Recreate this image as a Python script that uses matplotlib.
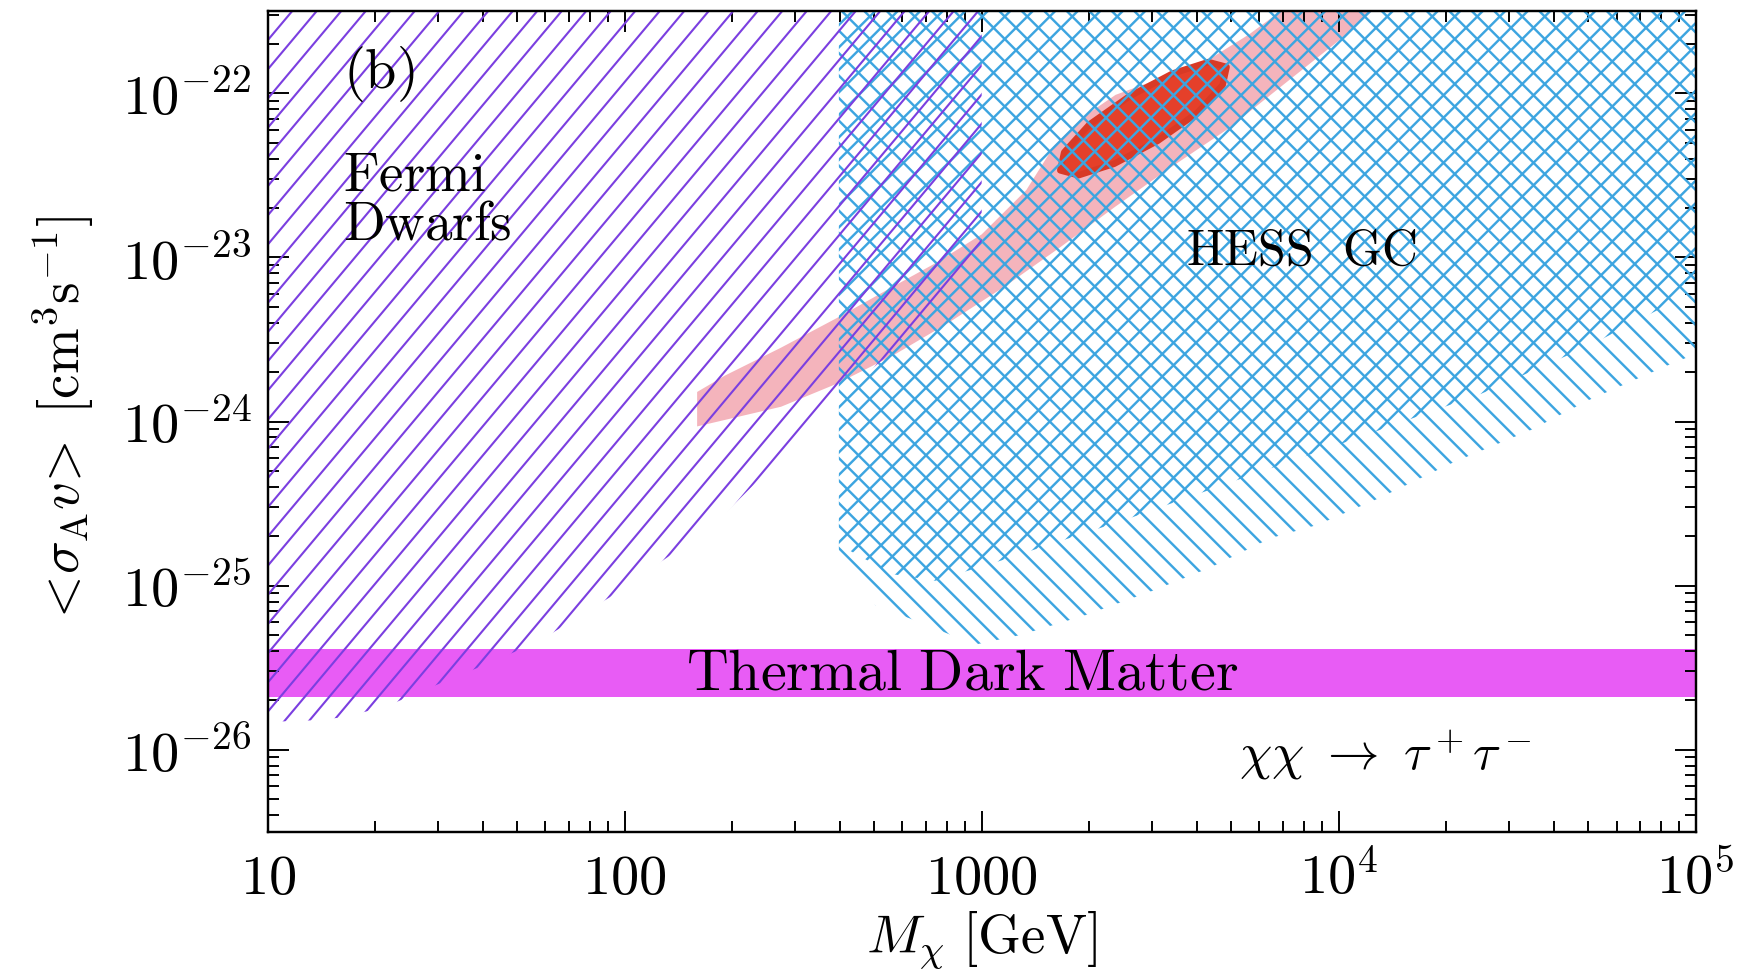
import numpy as np
import matplotlib.pyplot as plt
from matplotlib.collections import LineCollection
from matplotlib.ticker import LogLocator, NullFormatter

plt.rcParams['mathtext.fontset'] = 'cm'
plt.rcParams['font.family'] = 'serif'

# Fermi dwarfs limit, log10 M [GeV] / log10 <sigma v> [cm^3/s]
fermi_logm = np.array([1.0, 1.134, 1.219, 1.338, 1.478, 1.600, 1.759, 1.959, 2.244, 2.438, 2.603, 2.725, 3.0])
fermi_logsv = np.array([-25.83, -25.82, -25.80, -25.73, -25.60, -25.49, -25.34, -25.07, -24.64, -24.22, -23.84, -23.62, -23.06])

# HESS GC limits (the "\" family reaches lower than the "/" family)
hess_a_logm = np.array([2.6, 2.703, 2.847, 2.98, 3.11, 3.29, 3.48, 3.64, 3.81, 3.94, 4.11, 4.32, 4.54, 4.70, 4.94, 5.0])
hess_a_logsv = np.array([-24.80, -25.12, -25.24, -25.36, -25.30, -25.18, -25.03, -24.89, -24.71, -24.63, -24.47, -24.25, -24.05, -23.87, -23.64, -23.59])
hess_b_logm = np.array([2.6, 2.75, 2.87, 3.05, 3.4, 3.75, 4.04, 4.4, 4.7, 5.0])
hess_b_logsv = np.array([-24.75, -24.93, -24.97, -24.85, -24.6, -24.33, -24.11, -23.83, -23.54, -23.2])

# GC excess fit regions (outer = pink, inner = red)
outer_logm = np.array([2.203, 2.438, 2.594, 2.75, 2.906, 3.063, 3.219, 3.375, 3.531, 3.688, 3.844, 4.0, 4.125,
                       3.875, 3.75, 3.625, 3.5, 3.375, 3.281, 3.203, 3.125, 3.0, 2.875, 2.75, 2.594, 2.438, 2.281, 2.203])
outer_logsv = np.array([-24.03, -23.91, -23.77, -23.60, -23.40, -23.18, -22.94, -22.69, -22.45, -22.22, -21.95, -21.68, -21.44,
                        -21.44, -21.64, -21.81, -21.91, -22.01, -22.15, -22.32, -22.59, -22.86, -23.03, -23.18, -23.37, -23.55, -23.72, -23.82])
inner_logm = np.array([3.686, 3.675, 3.604, 3.493, 3.371, 3.271, 3.220, 3.231, 3.302, 3.413, 3.535, 3.635])
inner_logsv = np.array([-21.84, -21.95, -22.12, -22.29, -22.43, -22.50, -22.47, -22.36, -22.19, -22.02, -21.88, -21.81])

# thermal relic band
thermal_lo, thermal_hi = 2.1e-26, 4.1e-26

xticks = [10, 100, 1000, 1e4, 1e5]
xlabels = [r'$10$', r'$100$', r'$1000$', r'$10^4$', r'$10^5$']
yticks = [1e-26, 1e-25, 1e-24, 1e-23, 1e-22]
ylabels = [r'$10^{-26}$', r'$10^{-25}$', r'$10^{-24}$', r'$10^{-23}$', r'$10^{-22}$']

dpi = 116
fig = plt.figure(figsize=(1748 / dpi, 978 / dpi), dpi=dpi)
ax = fig.add_axes([0.1531, 0.1494, 0.8170, 0.8392])
ax.set_xscale('log')
ax.set_yscale('log')
ax.set_xlim(10, 1e5)
ax.set_ylim(10 ** -26.5, 10 ** -21.5)
ytop = ax.get_ylim()[1]


def hatch(region, angle, spacing, color, lw, z):
    # parallel lines in pixel space, clipped to the filled region
    bb = ax.get_window_extent()
    w, h = bb.width, bb.height
    run = h / np.tan(np.radians(angle))
    starts = np.arange(min(0, -run), max(w, w - run), spacing)
    segs = [[(x0 / w, 0), ((x0 + run) / w, 1)] for x0 in starts]
    lc = LineCollection(segs, colors=color, linewidths=lw, transform=ax.transAxes, zorder=z)
    lc.set_clip_path(region.get_paths()[0], ax.transData)
    ax.add_collection(lc, autolim=False)


ax.fill(10 ** outer_logm, 10 ** outer_logsv, color='#f4b4bc', lw=0, zorder=1)
ax.fill(10 ** inner_logm, 10 ** inner_logsv, fc='#e5402a', ec='#d83a26', lw=4, joinstyle='round', zorder=2)
ax.axhspan(thermal_lo, thermal_hi, color='#e85cf5', lw=0, zorder=1.5)

fermi = ax.fill_between(10 ** fermi_logm, 10 ** fermi_logsv, ytop, fc='none', lw=0)
hess_a = ax.fill_between(10 ** hess_a_logm, 10 ** hess_a_logsv, ytop, fc='none', lw=0)
hess_b = ax.fill_between(10 ** hess_b_logm, 10 ** hess_b_logsv, ytop, fc='none', lw=0)
hatch(hess_a, 135, 22.5, '#3da5e0', 1.5, 3)
hatch(hess_b, 45, 22.5, '#3da5e0', 1.5, 3)
hatch(fermi, 50, 24.5, '#7b3fe0', 1.3, 3.2)

ax.text(16.3, 10 ** -21.88, r'$\mathrm{(b)}$', fontsize=35, va='center', ha='left', zorder=5)
ax.text(16.3, 10 ** -22.50, r'$\mathrm{Fermi}$', fontsize=34, va='center', ha='left', zorder=5)
ax.text(16.3, 10 ** -22.80, r'$\mathrm{Dwarfs}$', fontsize=34, va='center', ha='left', zorder=5)
ax.text(10 ** 3.572, 10 ** -22.96, r'$\mathrm{HESS\ \ GC}$', fontsize=31, va='center', ha='left', zorder=5)
ax.text(10 ** 2.944, np.sqrt(thermal_lo * thermal_hi), r'$\mathrm{Thermal\ Dark\ Matter}$',
        fontsize=36, va='center', ha='center', zorder=5)
ax.text(10 ** 3.72, 10 ** -26.03, r'$\chi\chi\ \rightarrow\ \tau^+\tau^-$', fontsize=32,
        va='center', ha='left', zorder=5)

ax.set_xticks(xticks, xlabels)
ax.set_yticks(yticks, ylabels)
ax.xaxis.set_minor_locator(LogLocator(base=10, subs=np.arange(2, 10), numticks=20))
ax.yaxis.set_minor_locator(LogLocator(base=10, subs=np.arange(2, 10), numticks=20))
ax.xaxis.set_minor_formatter(NullFormatter())
ax.yaxis.set_minor_formatter(NullFormatter())
ax.tick_params(which='both', direction='in', top=True, right=True, width=1.2, labelsize=35)
ax.tick_params(which='major', length=13)
ax.tick_params(which='minor', length=7)
ax.tick_params(axis='x', pad=12)
ax.tick_params(axis='y', pad=10)
for s in ax.spines.values():
    s.set_linewidth(1.5)
    s.set_zorder(6)

ax.set_xlabel(r'$M_\chi\ [\mathrm{GeV}]$', fontsize=34, labelpad=2)
ax.set_ylabel(r'$<\!\sigma_\mathrm{A} v\!>\ [\mathrm{cm}^3\mathrm{s}^{-1}]$', fontsize=34, labelpad=16)

fig.savefig('out.png', dpi=dpi)
